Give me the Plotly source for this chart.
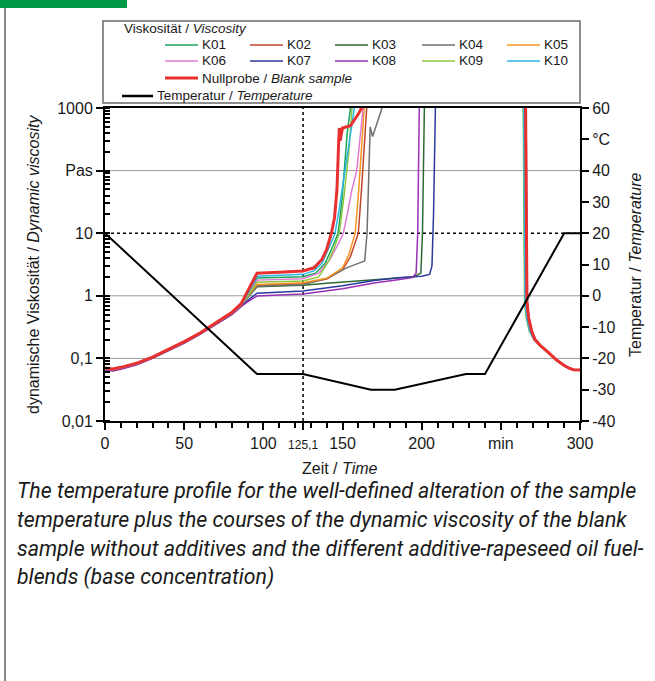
import plotly.graph_objects as go

# ---------------- data ----------------
temp_time = [0, 96, 125, 168, 183, 228, 240, 290, 300]
temp_degC = [20, -25, -25, -30, -30, -25, -25, 20, 20]

x_tickvals = [0, 50, 100, 125.1, 150, 200, 250, 300]
x_ticktext = ["0", "50", "100", "<span style='font-size:12px'>125,1</span>", "150", "200", "min", "300"]
y_tickvals = [0.01, 0.1, 1, 10, 100, 1000]
y_ticktext = ["0,01", "0,1", "1", "10", "Pas", "1000"]
y2_tickvals = [-40, -30, -20, -10, 0, 10, 20, 30, 40, 50, 60]
y2_ticktext = ["-40", "-30", "-20", "-10", "0", "10", "20", "30", "40", "°C", "60"]

series_names = ["K01", "K02", "K03", "K04", "K05", "K06", "K07", "K08", "K09", "K10", "Nullprobe"]
series_colors = ["#1aa55a", "#c0452b", "#2f6a35", "#707070", "#f7941d", "#e07ad2",
                 "#2c3a9e", "#9a30b4", "#8cc63f", "#2bb5e6", "#e8302f"]

t_K01 = [0, 5, 10, 20, 30, 40, 50, 60, 70, 80, 86, 90, 96, 110, 125, 133, 139, 143, 147.2, 149.5, 151, 153, 155, 156,
         264.2, 265.2, 266.3, 268.3, 271, 275, 280, 285, 290, 293, 296, 300]
v_K01 = [0.068, 0.066, 0.070, 0.082, 0.103, 0.135, 0.180, 0.250, 0.36, 0.52, 0.72, 1.0, 1.92, 1.97, 2.02, 2.3, 3.3, 5.5, 10, 30, 100, 400, 1000, 3000,
         3000, 0.8, 0.45, 0.27, 0.2, 0.16, 0.125, 0.095, 0.077, 0.07, 0.066, 0.065]

t_K02 = [0, 5, 10, 20, 30, 40, 50, 60, 70, 80, 86, 90, 96, 110, 125, 140, 150, 155, 160, 162, 164, 165.5, 166.5,
         264.8, 265.8, 266.8, 268.8, 271, 275, 280, 285, 290, 293, 296, 300]
v_K02 = [0.068, 0.066, 0.070, 0.082, 0.103, 0.135, 0.180, 0.250, 0.36, 0.52, 0.71, 0.95, 1.47, 1.51, 1.56, 1.85, 2.6, 4.2, 10, 50, 300, 1000, 3000,
         3000, 0.8, 0.45, 0.27, 0.2, 0.16, 0.125, 0.095, 0.077, 0.07, 0.066, 0.065]

t_K03 = [0, 5, 10, 20, 30, 40, 50, 60, 70, 80, 86, 90, 96, 110, 125, 140, 155, 170, 185, 195, 199.5, 200.5, 201.5, 202,
         265.0, 266.0, 267.0, 269.0, 271, 275, 280, 285, 290, 293, 296, 300]
v_K03 = [0.068, 0.066, 0.070, 0.082, 0.103, 0.135, 0.180, 0.250, 0.36, 0.52, 0.70, 0.93, 1.40, 1.44, 1.48, 1.58, 1.7, 1.82, 1.93, 2.0, 2.3, 10, 1000, 3000,
         3000, 0.8, 0.45, 0.27, 0.2, 0.16, 0.125, 0.095, 0.077, 0.07, 0.066, 0.065]

t_K04 = [0, 5, 10, 20, 30, 40, 50, 60, 70, 80, 86, 90, 96, 110, 125, 140, 152.6, 160, 164, 165.5, 166.5, 167.5, 169, 171, 173, 175, 176,
         265.5, 266.5, 267.5, 269.5, 271.5, 275, 280, 285, 290, 293, 296, 300]
v_K04 = [0.068, 0.066, 0.070, 0.082, 0.103, 0.135, 0.180, 0.250, 0.36, 0.52, 0.71, 0.95, 1.42, 1.47, 1.50, 1.9, 2.8, 3.3, 3.6, 10, 100, 500, 350, 500, 700, 1000, 3000,
         3000, 0.8, 0.45, 0.27, 0.2, 0.16, 0.125, 0.095, 0.077, 0.07, 0.066, 0.065]

t_K05 = [0, 5, 10, 20, 30, 40, 50, 60, 70, 80, 86, 90, 96, 110, 125, 140, 150, 154, 158, 160, 162, 164, 165,
         264.6, 265.6, 266.6, 268.6, 271, 275, 280, 285, 290, 293, 296, 300]
v_K05 = [0.068, 0.066, 0.070, 0.082, 0.103, 0.135, 0.180, 0.250, 0.36, 0.52, 0.71, 0.96, 1.52, 1.56, 1.62, 1.9, 2.8, 4.5, 10, 40, 200, 1000, 3000,
         3000, 0.8, 0.45, 0.27, 0.2, 0.16, 0.125, 0.095, 0.077, 0.07, 0.066, 0.065]

t_K06 = [0, 5, 10, 20, 30, 40, 50, 60, 70, 80, 86, 90, 96, 110, 125, 135, 142, 147, 150.5, 153, 156, 159, 161, 163, 164,
         264.4, 265.4, 266.4, 268.4, 271, 275, 280, 285, 290, 293, 296, 300]
v_K06 = [0.067, 0.065, 0.069, 0.081, 0.102, 0.134, 0.179, 0.248, 0.36, 0.52, 0.71, 0.98, 1.78, 1.83, 1.87, 2.3, 3.8, 6.5, 10, 20, 50, 100, 300, 1000, 3000,
         3000, 0.8, 0.45, 0.27, 0.2, 0.16, 0.125, 0.095, 0.077, 0.07, 0.066, 0.065]

t_K07 = [0, 5, 10, 20, 30, 40, 50, 60, 70, 80, 86, 90, 96, 110, 125, 150, 170, 185, 192, 200, 205, 206.5, 207.5, 208.5, 209,
         265.2, 266.2, 267.2, 269.2, 271.5, 275, 280, 285, 290, 293, 296, 300]
v_K07 = [0.066, 0.064, 0.068, 0.080, 0.101, 0.132, 0.176, 0.245, 0.35, 0.50, 0.68, 0.84, 1.10, 1.15, 1.19, 1.45, 1.75, 1.95, 2.0, 2.05, 2.2, 3, 20, 1000, 3000,
         3000, 0.8, 0.45, 0.27, 0.2, 0.16, 0.125, 0.095, 0.077, 0.07, 0.066, 0.065]

t_K08 = [0, 5, 10, 20, 30, 40, 50, 60, 70, 80, 86, 90, 96, 110, 125, 150, 170, 185, 194, 196.5, 197.5, 198.5, 199,
         265.8, 266.8, 267.8, 269.8, 272, 275, 280, 285, 290, 293, 296, 300]
v_K08 = [0.065, 0.063, 0.067, 0.079, 0.100, 0.131, 0.175, 0.243, 0.35, 0.50, 0.67, 0.80, 0.99, 1.03, 1.07, 1.3, 1.6, 1.8, 1.95, 2.3, 10, 1000, 3000,
         3000, 0.8, 0.45, 0.27, 0.2, 0.16, 0.125, 0.095, 0.077, 0.07, 0.066, 0.065]

t_K09 = [0, 5, 10, 20, 30, 40, 50, 60, 70, 80, 86, 90, 96, 110, 125, 135, 141, 145, 148, 151, 154, 156, 157,
         264.0, 265.0, 266.0, 268.0, 271, 275, 280, 285, 290, 293, 296, 300]
v_K09 = [0.068, 0.066, 0.070, 0.082, 0.103, 0.135, 0.180, 0.250, 0.36, 0.52, 0.71, 0.97, 1.65, 1.69, 1.72, 2.0, 3.5, 6, 10, 40, 200, 1000, 3000,
         3000, 0.8, 0.45, 0.27, 0.2, 0.16, 0.125, 0.095, 0.077, 0.07, 0.066, 0.065]

t_K10 = [0, 5, 10, 20, 30, 40, 50, 60, 70, 80, 86, 90, 96, 110, 125, 132, 137, 141, 145.3, 148, 151, 154, 157.5, 159,
         264.3, 265.3, 266.3, 268.3, 271, 275, 280, 285, 290, 293, 296, 300]
v_K10 = [0.069, 0.067, 0.071, 0.083, 0.104, 0.136, 0.182, 0.252, 0.365, 0.53, 0.73, 1.05, 2.05, 2.12, 2.2, 2.5, 3.3, 5.5, 10, 25, 80, 250, 1000, 3000,
         3000, 0.8, 0.45, 0.27, 0.2, 0.16, 0.125, 0.095, 0.077, 0.07, 0.066, 0.065]

t_null = [0, 5, 10, 20, 30, 40, 50, 60, 70, 80, 86, 90, 96, 110, 125, 132, 137, 140, 143, 145, 146.5, 147.5, 148, 148.5, 150, 155, 160, 162, 163,
          265.5, 266.5, 267.5, 269.5, 271.5, 275, 280, 285, 290, 293, 296, 300]
v_null = [0.070, 0.068, 0.072, 0.084, 0.105, 0.138, 0.185, 0.255, 0.37, 0.54, 0.75, 1.15, 2.3, 2.38, 2.49, 2.8, 3.8, 5.5, 10, 18, 50, 250, 480, 300, 480, 520, 800, 1000, 3000,
          3000, 0.8, 0.45, 0.27, 0.2, 0.16, 0.125, 0.095, 0.077, 0.07, 0.066, 0.065]

series_t = [t_K01, t_K02, t_K03, t_K04, t_K05, t_K06, t_K07, t_K08, t_K09, t_K10, t_null]
series_v = [v_K01, v_K02, v_K03, v_K04, v_K05, v_K06, v_K07, v_K08, v_K09, v_K10, v_null]

caption_lines = [
    "The temperature profile for the well-defined alteration of the sample",
    "temperature plus the courses of the dynamic viscosity of the blank",
    "sample without additives and the different additive-rapeseed oil fuel-",
    "blends (base concentration)",
]

# ---------------- layout geometry ----------------
W, H = 655, 681
L, R, T, B = 105, 75, 108, 260
PW, PH = W - L - R, H - T - B


def px(x):
    return (x - L) / PW


def py(y):
    return (H - B - y) / PH


fig = go.Figure()

for name, col, tt, vv in zip(series_names, series_colors, series_t, series_v):
    fig.add_trace(go.Scatter(x=tt, y=vv, mode="lines", name=name,
                             line=dict(color=col, width=3 if name == "Nullprobe" else 1.5),
                             showlegend=False, hoverinfo="skip"))

fig.add_trace(go.Scatter(x=temp_time, y=temp_degC, yaxis="y2", mode="lines", name="Temperatur",
                         line=dict(color="black", width=2), showlegend=False, hoverinfo="skip"))

shapes = []
for g in [-20, 0, 40]:
    shapes.append(dict(type="line", xref="paper", yref="y2", x0=0, x1=1, y0=g, y1=g,
                       line=dict(color="#9a9a9a", width=1), layer="below"))
shapes.append(dict(type="line", xref="paper", yref="y2", x0=0, x1=1, y0=20, y1=20,
                   line=dict(color="black", width=1.5, dash="dot"), layer="below"))
shapes.append(dict(type="line", xref="x", yref="paper", x0=125.1, x1=125.1, y0=0, y1=1,
                   line=dict(color="black", width=1.5, dash="dot"), layer="below"))
shapes.append(dict(type="rect", xref="paper", yref="paper", x0=px(103), x1=px(580), y0=py(21), y1=py(103),
                   line=dict(color="#6a6a6a", width=1.5), fillcolor="white"))
shapes.append(dict(type="rect", xref="paper", yref="paper", x0=px(0), x1=px(127), y0=py(0), y1=py(8),
                   line=dict(width=0), fillcolor="#009a46"))
shapes.append(dict(type="line", xref="paper", yref="paper", x0=px(5), x1=px(5), y0=py(8), y1=py(681),
                   line=dict(color="#8a8a8a", width=2)))

annotations = []
leg_font = dict(family="Liberation Sans, Arial, sans-serif", size=13.5, color="#1a1a1a")
annotations.append(dict(xref="paper", yref="paper", x=px(122), y=py(28), xanchor="left", yanchor="middle",
                        text="Viskosität / <i>Viscosity</i>", showarrow=False, font=leg_font))
col_x = [165, 250, 335, 422, 507]
row_y = [45, 61]
for i, (name, col) in enumerate(zip(series_names[:10], series_colors[:10])):
    cx = col_x[i % 5]
    ry = row_y[i // 5]
    shapes.append(dict(type="line", xref="paper", yref="paper", x0=px(cx), x1=px(cx + 33), y0=py(ry), y1=py(ry),
                       line=dict(color=col, width=1.5)))
    annotations.append(dict(xref="paper", yref="paper", x=px(cx + 35), y=py(ry), xanchor="left", yanchor="middle",
                            text=name, showarrow=False, font=leg_font))
shapes.append(dict(type="line", xref="paper", yref="paper", x0=px(165), x1=px(198), y0=py(78), y1=py(78),
                   line=dict(color=series_colors[10], width=3)))
annotations.append(dict(xref="paper", yref="paper", x=px(200), y=py(78), xanchor="left", yanchor="middle",
                        text="Nullprobe / <i>Blank sample</i>", showarrow=False, font=leg_font))
shapes.append(dict(type="line", xref="paper", yref="paper", x0=px(122), x1=px(153), y0=py(96), y1=py(96),
                   line=dict(color="black", width=2.5)))
annotations.append(dict(xref="paper", yref="paper", x=px(155), y=py(96), xanchor="left", yanchor="middle",
                        text="Temperatur / <i>Temperature</i>", showarrow=False, font=leg_font))

title_font = dict(family="Liberation Sans, Arial, sans-serif", size=16, color="#1a1a1a")
annotations.append(dict(xref="paper", yref="paper", x=px(33), y=py(265), xanchor="center", yanchor="middle",
                        text="dynamische Viskosität / <i>Dynamic viscosity</i>", textangle=-90,
                        showarrow=False, font=title_font))
annotations.append(dict(xref="paper", yref="paper", x=px(635), y=py(265), xanchor="center", yanchor="middle",
                        text="Temperatur / <i>Temperature</i>", textangle=-90,
                        showarrow=False, font=title_font))
annotations.append(dict(xref="paper", yref="paper", x=px(340), y=py(468), xanchor="center", yanchor="middle",
                        text="Zeit / <i>Time</i>", showarrow=False, font=title_font))

cap_font = dict(family="Roboto, Liberation Sans, sans-serif", size=21.3, color="#1a1a1a")
for i, line in enumerate(caption_lines):
    annotations.append(dict(xref="paper", yref="paper", x=px(15), y=py(490 + 29 * i), xanchor="left",
                            yanchor="middle", text="<i>" + line + "</i>", showarrow=False, font=cap_font))

tick_font = dict(family="Liberation Sans, Arial, sans-serif", size=16, color="#1a1a1a")

fig.update_layout(
    width=W, height=H,
    margin=dict(l=L, r=R, t=T, b=B, autoexpand=False),
    paper_bgcolor="white", plot_bgcolor="white",
    shapes=shapes, annotations=annotations,
    xaxis=dict(range=[0, 300], tickmode="array", tickvals=x_tickvals, ticktext=x_ticktext,
               ticks="outside", ticklen=7, tickwidth=2, tickcolor="black",
               showline=True, linewidth=2, linecolor="black", mirror=True, showgrid=False, zeroline=False,
               tickfont=tick_font,
               minor=dict(tickmode="linear", tick0=0, dtick=10, ticks="outside", ticklen=5, tickwidth=1.5,
                          tickcolor="black", showgrid=False)),
    yaxis=dict(type="log", range=[-2, 3], tickmode="array", tickvals=y_tickvals, ticktext=y_ticktext,
               ticks="outside", ticklen=7, tickwidth=2, tickcolor="black",
               showline=True, linewidth=2, linecolor="black", mirror=True, showgrid=False, zeroline=False,
               tickfont=tick_font,
               minor=dict(ticks="inside", ticklen=5, tickwidth=1.5, tickcolor="black", dtick="D1", showgrid=False)),
    yaxis2=dict(range=[-40, 60], overlaying="y", side="right", tickmode="array", tickvals=y2_tickvals,
                ticktext=y2_ticktext, ticks="outside", ticklen=7, tickwidth=2, tickcolor="black",
                showline=True, linewidth=2, linecolor="black", showgrid=False, zeroline=False,
                tickfont=tick_font),
)

fig.write_html("out.html", config={"displayModeBar": False},
               post_script="document.body.style.margin='0px';document.body.style.padding='0px';")
